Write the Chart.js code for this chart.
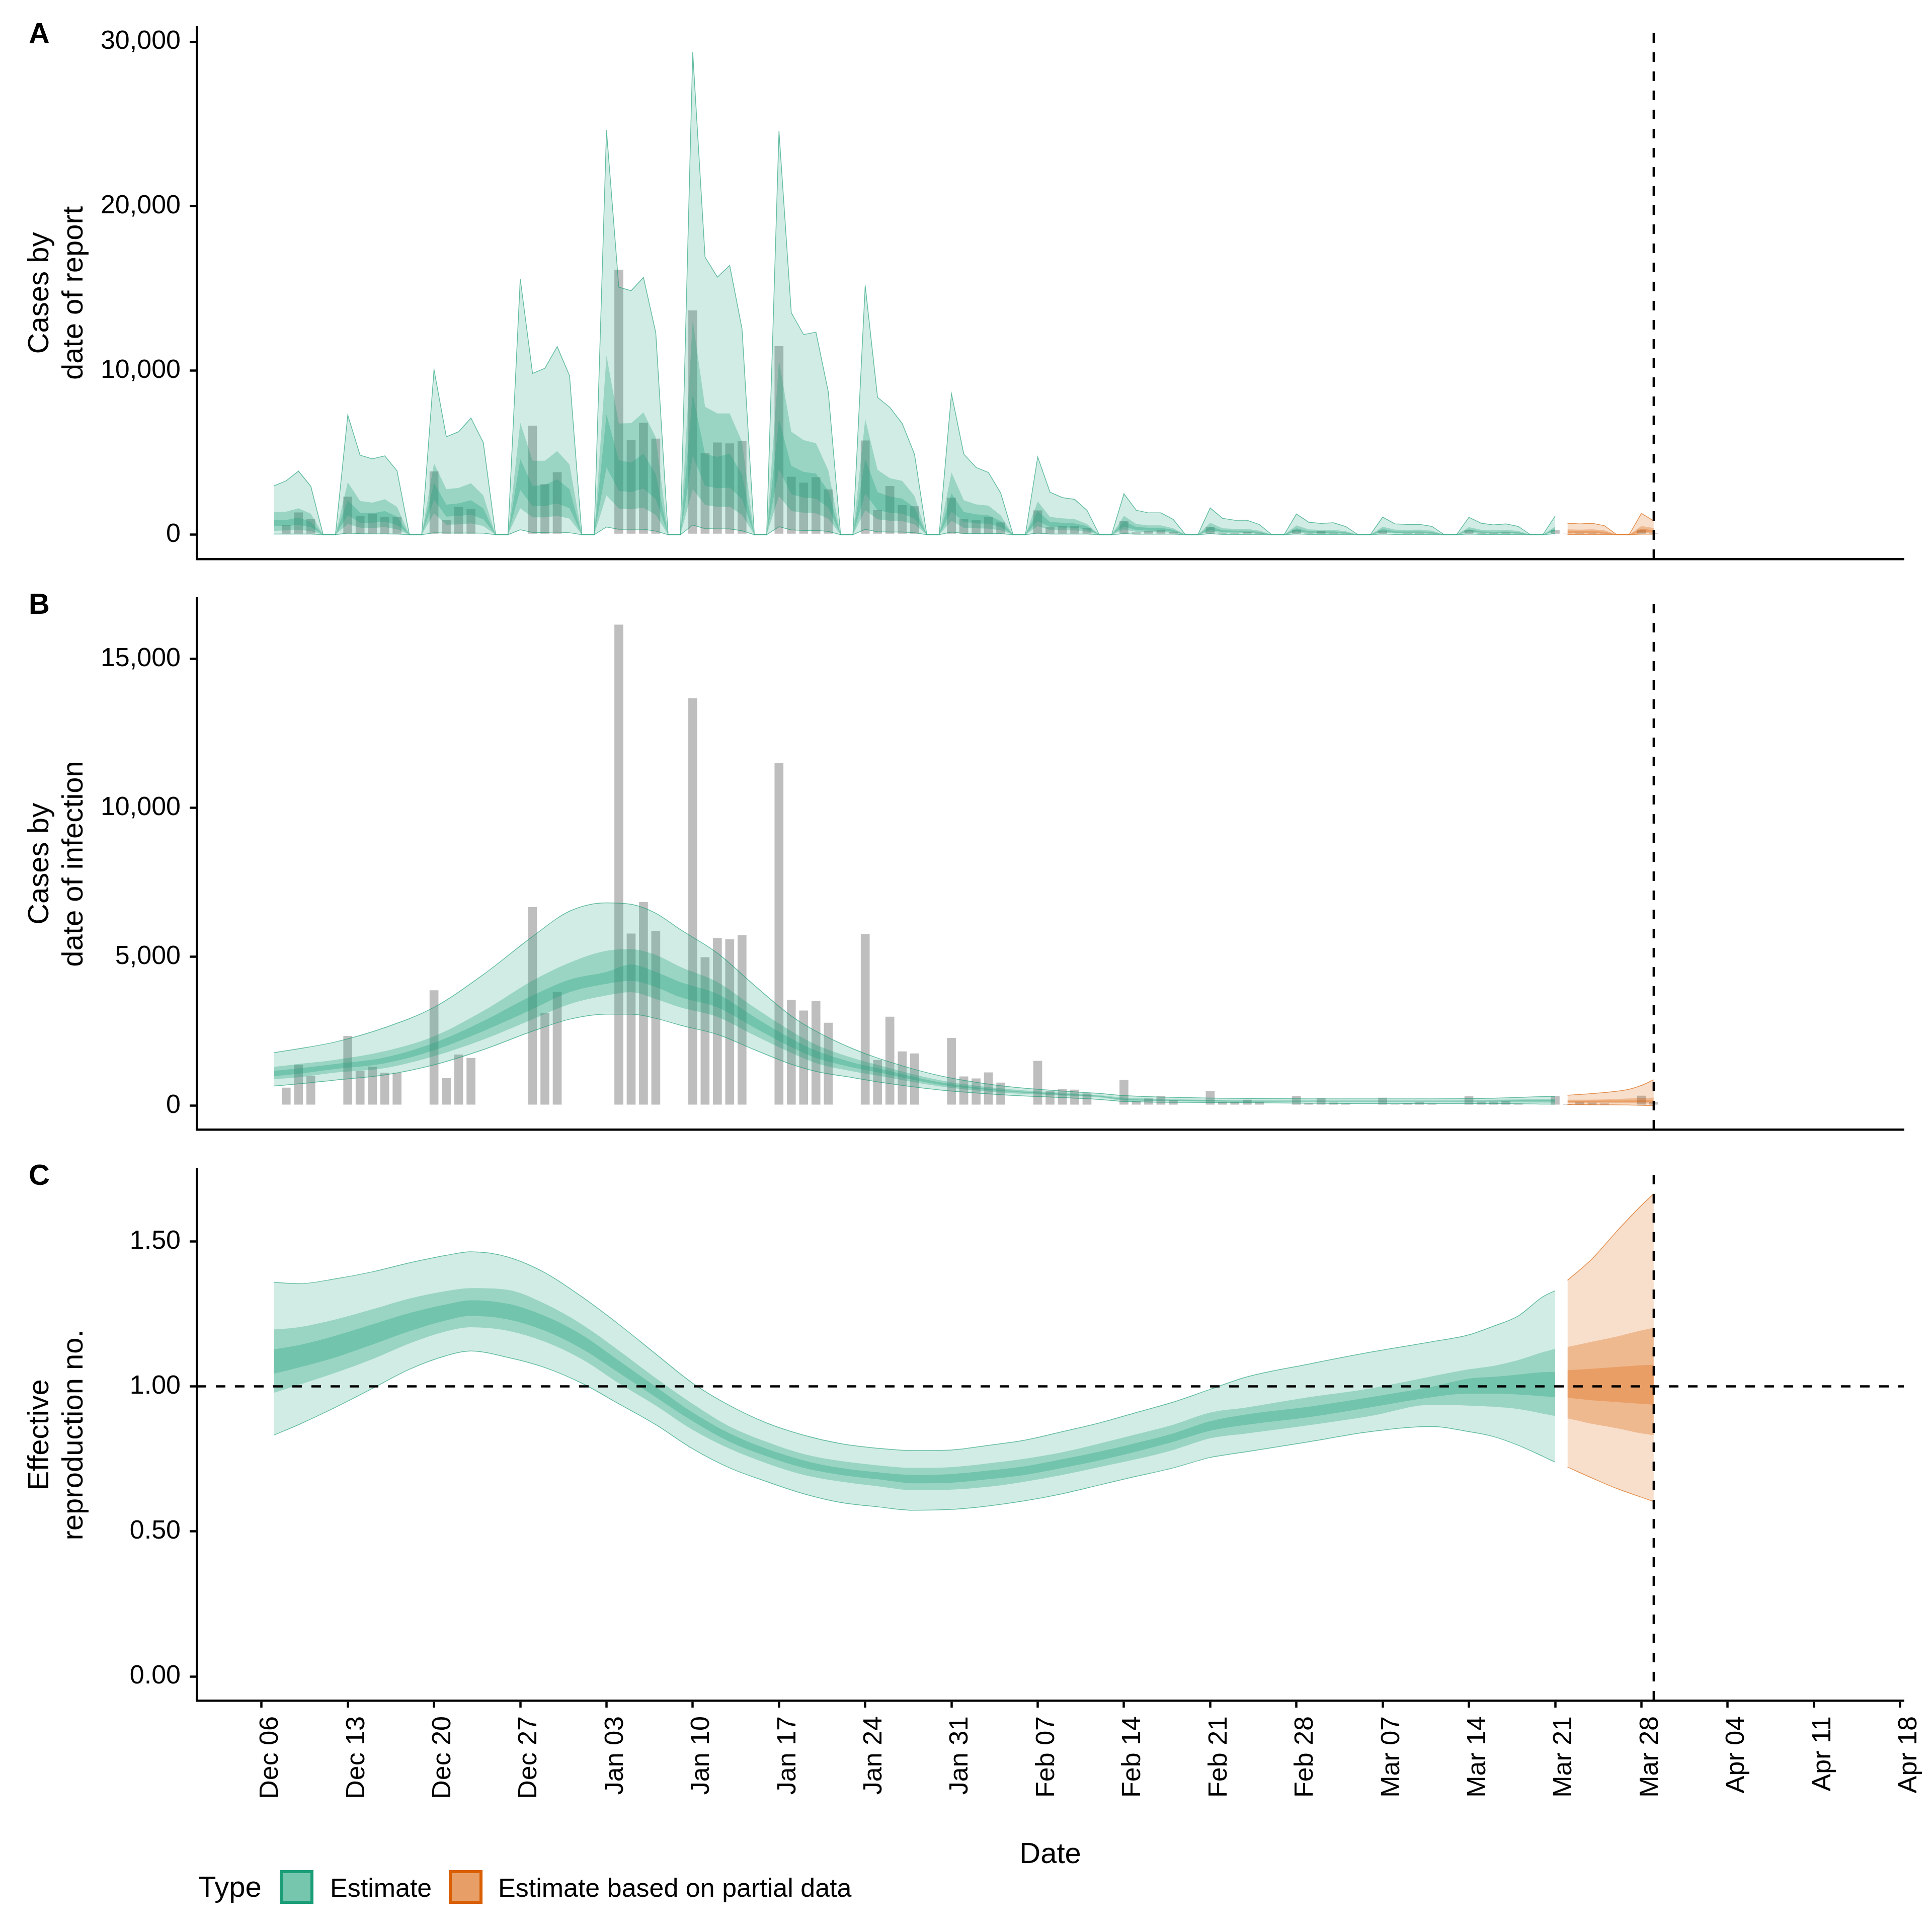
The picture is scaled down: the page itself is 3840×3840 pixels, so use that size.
<!DOCTYPE html>
<html>
<head>
<meta charset="utf-8">
<script src="https://cdn.jsdelivr.net/npm/chart.js@4.4.1/dist/chart.umd.min.js"></script>
<style>
  body { margin: 0; background: #fff; width: 3840px; height: 3840px; position: relative; overflow: hidden;
         font-family: "Liberation Sans", Arial, sans-serif; color: #000; }
  canvas { position: absolute; left: 0; }
  .tag { position: absolute; left: 57px; font-weight: bold; font-size: 58px; line-height: 58px; }
  .lg { position: absolute; line-height: 1; white-space: nowrap; }
  .key { position: absolute; top: 3717px; width: 67px; height: 67px; box-sizing: border-box; border: 6px solid; }
</style>
</head>
<body>
<canvas id="chartA" width="3840" height="1121" style="top:0px"></canvas>
<canvas id="chartB" width="3840" height="1125" style="top:1130px"></canvas>
<canvas id="chartC" width="3840" height="1560" style="top:2280px"></canvas>

<div class="tag" style="top:37px">A</div>
<div class="tag" style="top:1171px">B</div>
<div class="tag" style="top:2306px">C</div>

<div class="lg" style="left:394px; top:3721px; font-size:58px">Type</div>
<div class="key" style="left:556px; border-color:#1B9E77; background:rgba(27,158,119,0.6)"></div>
<div class="lg" style="left:656px; top:3726px; font-size:52px">Estimate</div>
<div class="key" style="left:892px; border-color:#D95F02; background:rgba(217,95,2,0.6)"></div>
<div class="lg" style="left:990px; top:3726px; font-size:52px">Estimate based on partial data</div>

<script>
const FONT = '"Liberation Sans", Arial, sans-serif';
const GREEN = '27,158,119';
const ORANGE = '217,95,2';

// x axis in days since Dec 06
const tickDays = [0, 7, 14, 21, 28, 35, 42, 49, 56, 63, 70, 77, 84, 91, 98, 105, 112, 119, 126, 133];
const tickLabels = ['Dec 06', 'Dec 13', 'Dec 20', 'Dec 27', 'Jan 03', 'Jan 10', 'Jan 17', 'Jan 24', 'Jan 31',
  'Feb 07', 'Feb 14', 'Feb 21', 'Feb 28', 'Mar 07', 'Mar 14', 'Mar 21', 'Mar 28', 'Apr 04', 'Apr 11', 'Apr 18'];
const xMin = -5.26, xMax = 133.3;
const cutoffDay = 113;   // dashed vertical line
const rtReference = 1;   // dashed horizontal line in C

// reported cases (grey bars)
const reportDays = [2, 3, 4, 7, 8, 9, 10, 11, 14, 15, 16, 17, 22, 23, 24, 29, 30, 31, 32, 35, 36, 37, 38, 39,
  42, 43, 44, 45, 46, 49, 50, 51, 52, 53, 56, 57, 58, 59, 60, 63, 64, 65, 66, 67, 70, 71, 72, 73, 74,
  77, 78, 79, 80, 81, 84, 85, 86, 87, 88, 91, 92, 93, 94, 95, 98, 99, 100, 101, 102, 105, 106, 107, 108, 109, 112, 113];
const reportCases = [633, 1405, 1020, 2370, 1190, 1338, 1134, 1134, 3900, 951, 1745, 1632, 6692, 3130, 3855,
  16178, 5808, 6862, 5898, 13705, 5014, 5660, 5614, 5751, 11525, 3583, 3222, 3549, 2811,
  5785, 1564, 3016, 1848, 1781, 2301, 1009, 940, 1144, 804, 1531, 520, 578, 566, 441,
  890, 188, 272, 340, 215, 514, 159, 159, 226, 159, 356, 113, 282, 130, 103,
  294, 69, 113, 142, 103, 345, 159, 159, 181, 103, 345, 86, 142, 130, 103, 361, 150];

// A: cases by date of report, estimate (days 1..105)
const reportEstDays = Array.from({length: 105}, (_, i) => i + 1);
const reportU90 = [2970, 3280, 3870, 2950, 0, 0,
  7280, 4840, 4620, 4800, 3890, 0, 0,
  10050, 5960, 6270, 7100, 5610, 0, 0,
  15580, 9820, 10130, 11450, 9680, 0, 0,
  24610, 15070, 14850, 15660, 12290, 0, 0,
  29370, 16900, 15680, 16390, 12530, 0, 0,
  24570, 13510, 12180, 12330, 8710, 0, 0,
  15170, 8360, 7750, 6770, 4900, 0, 0,
  8590, 4910, 4090, 3790, 2530, 0, 0,
  4740, 2590, 2260, 2150, 1490, 0, 0,
  2490, 1490, 1330, 1330, 930, 0, 0,
  1630, 1000, 880, 880, 620, 0, 0,
  1260, 760, 690, 730, 500, 0, 0,
  1070, 660, 630, 630, 510, 0, 0,
  1060, 700, 600, 660, 510, 0, 0,
  1140];
const reportU50 = [1380, 1400, 1610, 1280, 0, 0,
  3190, 2050, 1950, 2160, 1690, 0, 0,
  4350, 2770, 2850, 3130, 2400, 0, 0,
  6830, 4500, 4500, 5090, 4270, 0, 0,
  10900, 6770, 6790, 7440, 5920, 0, 0,
  13040, 7790, 7380, 7380, 5660, 0, 0,
  10600, 6270, 5760, 5570, 3930, 0, 0,
  7040, 3950, 3440, 3280, 2360, 0, 0,
  3790, 2100, 1850, 1770, 1180, 0, 0,
  2020, 1080, 1000, 950, 650, 0, 0,
  1150, 650, 570, 570, 390, 0, 0,
  730, 390, 350, 350, 250, 0, 0,
  570, 320, 290, 300, 210, 0, 0,
  480, 310, 300, 310, 250, 0, 0,
  460, 300, 270, 290, 230, 0, 0,
  500];
const reportU20 = [880, 900, 1040, 790, 0, 0,
  2100, 1340, 1300, 1440, 1100, 0, 0,
  3170, 1830, 1910, 2100, 1610, 0, 0,
  4600, 2970, 3030, 3380, 2770, 0, 0,
  7320, 4540, 4390, 4940, 3680, 0, 0,
  8560, 4900, 4740, 4940, 3680, 0, 0,
  7040, 4190, 3820, 3720, 2670, 0, 0,
  4600, 2600, 2320, 2200, 1650, 0, 0,
  2510, 1390, 1240, 1180, 830, 0, 0,
  1440, 780, 730, 690, 520, 0, 0,
  830, 470, 420, 420, 300, 0, 0,
  500, 270, 250, 250, 170, 0, 0,
  390, 210, 190, 200, 150, 0, 0,
  350, 200, 190, 200, 160, 0, 0,
  330, 200, 180, 190, 150, 0, 0,
  380];
const reportL20 = [530, 530, 590, 470, 0, 0,
  1180, 730, 730, 790, 590, 0, 0,
  2120, 1100, 1140, 1220, 940, 0, 0,
  2730, 1730, 1750, 1910, 1610, 0, 0,
  4090, 2670, 2600, 2810, 2160, 0, 0,
  4800, 2970, 2830, 2870, 2160, 0, 0,
  3990, 2460, 2260, 2200, 1650, 0, 0,
  2500, 1490, 1340, 1280, 980, 0, 0,
  1410, 780, 690, 670, 470, 0, 0,
  830, 470, 440, 420, 320, 0, 0,
  490, 290, 250, 250, 180, 0, 0,
  290, 160, 140, 140, 110, 0, 0,
  210, 120, 110, 110, 90, 0, 0,
  210, 120, 120, 120, 100, 0, 0,
  230, 120, 110, 120, 90, 0, 0,
  250];
const reportL50 = [240, 260, 290, 220, 0, 0,
  650, 430, 410, 470, 330, 0, 0,
  1300, 610, 630, 690, 530, 0, 0,
  1610, 1060, 1060, 1140, 980, 0, 0,
  2400, 1590, 1550, 1650, 1200, 0, 0,
  2770, 1810, 1690, 1710, 1200, 0, 0,
  2360, 1440, 1340, 1300, 980, 0, 0,
  1490, 940, 850, 830, 630, 0, 0,
  850, 420, 390, 370, 270, 0, 0,
  520, 290, 270, 260, 190, 0, 0,
  320, 180, 160, 160, 120, 0, 0,
  180, 100, 90, 90, 70, 0, 0,
  140, 80, 70, 70, 60, 0, 0,
  130, 80, 80, 80, 60, 0, 0,
  140, 80, 70, 80, 60, 0, 0,
  160];
const reportL90 = [40, 40, 40, 40, 0, 0,
  100, 60, 50, 50, 40, 0, 0,
  120, 100, 100, 100, 90, 0, 0,
  300, 140, 140, 160, 120, 0, 0,
  470, 330, 330, 330, 220, 0, 0,
  590, 370, 350, 350, 240, 0, 0,
  490, 290, 260, 260, 200, 0, 0,
  330, 180, 160, 160, 120, 0, 0,
  160, 80, 60, 60, 60, 0, 0,
  100, 40, 40, 40, 40, 0, 0,
  60, 30, 30, 30, 30, 0, 0,
  60, 20, 20, 20, 20, 0, 0,
  50, 20, 20, 20, 20, 0, 0,
  40, 20, 20, 20, 20, 0, 0,
  40, 20, 20, 20, 20, 0, 0,
  60];

// A: estimate based on partial data
const partialDays = [106, 107, 108, 109, 110, 111, 112, 113];
const reportPartU90 = [700, 660, 700, 550, 0, 0, 1300, 840];
const reportPartU50 = [330, 310, 330, 270, 0, 0, 530, 410];
const reportPartU20 = [230, 210, 220, 180, 0, 0, 360, 280];
const reportPartL20 = [120, 120, 120, 100, 0, 0, 170, 140];
const reportPartL50 = [70, 80, 70, 60, 0, 0, 100, 90];
const reportPartL90 = [20, 20, 20, 20, 0, 0, 30, 30];

// B: cases by date of infection
const infDays = [1, 3, 6, 10, 14, 18, 22, 25, 28, 30, 32, 34, 37, 40, 43, 45, 48, 50, 55, 60, 65, 68, 70, 75, 80, 85, 90, 95, 100, 105];
const infU90 = [1780, 1910, 2140, 2620, 3300, 4400, 5680, 6530, 6810, 6760, 6460, 5910, 5120, 4040, 3010, 2500, 1910, 1600, 1010, 670, 490, 410, 340, 270, 240, 230, 230, 230, 250, 320];
const infU50 = [1300, 1400, 1540, 1830, 2330, 3180, 4200, 4800, 5200, 5250, 5060, 4660, 4150, 3300, 2500, 2050, 1600, 1370, 860, 580, 430, 350, 270, 210, 190, 180, 180, 180, 200, 230];
const infU20 = [1170, 1250, 1400, 1620, 2110, 2840, 3700, 4230, 4490, 4740, 4490, 4150, 3750, 2980, 2250, 1850, 1450, 1260, 790, 530, 400, 330, 230, 190, 160, 160, 160, 160, 170, 190];
const infL20 = [990, 1070, 1230, 1420, 1860, 2500, 3240, 3810, 4090, 4190, 3980, 3640, 3300, 2620, 1960, 1600, 1280, 1120, 710, 490, 360, 300, 200, 160, 140, 140, 140, 140, 140, 140];
const infL50 = [890, 950, 1110, 1260, 1660, 2220, 2900, 3410, 3700, 3810, 3580, 3300, 2980, 2360, 1770, 1430, 1150, 1010, 650, 440, 340, 280, 170, 140, 120, 110, 110, 110, 110, 100];
const infL90 = [660, 730, 860, 1030, 1370, 1880, 2500, 2900, 3070, 3070, 2930, 2700, 2390, 1880, 1390, 1150, 940, 800, 530, 370, 270, 210, 140, 110, 100, 80, 70, 70, 70, 50];
const infPartDays = [106, 109, 111, 112, 113];
const infPartU90 = [350, 440, 550, 680, 870];
const infPartU50 = [200, 210, 240, 255, 270];
const infPartU20 = [160, 170, 175, 180, 186];
const infPartL20 = [124, 124, 124, 120, 118];
const infPartL50 = [84, 84, 79, 75, 73];
const infPartL90 = [39, 28, 23, 10, 5];

// C: effective reproduction number
const rtDays = [1, 3, 6, 9, 12, 15, 17, 20, 23, 26, 29, 32, 35, 38, 41, 44, 47, 50, 53, 56, 59, 62, 65, 68, 71, 74, 77, 80, 85, 90, 95, 98, 100, 102, 104, 105];
const rtU90 = [1.359, 1.354, 1.371, 1.395, 1.426, 1.452, 1.464, 1.446, 1.392, 1.309, 1.214, 1.112, 1.011, 0.934, 0.874, 0.832, 0.803, 0.787, 0.779, 0.781, 0.797, 0.815, 0.844, 0.874, 0.910, 0.946, 0.990, 1.033, 1.077, 1.118, 1.154, 1.178, 1.208, 1.243, 1.309, 1.330];
const rtU50 = [1.196, 1.204, 1.231, 1.266, 1.303, 1.329, 1.339, 1.333, 1.285, 1.214, 1.124, 1.029, 0.940, 0.862, 0.809, 0.767, 0.743, 0.728, 0.719, 0.722, 0.735, 0.751, 0.773, 0.803, 0.835, 0.868, 0.910, 0.928, 0.963, 0.993, 1.035, 1.059, 1.071, 1.091, 1.118, 1.130];
const rtU20 = [1.128, 1.142, 1.175, 1.214, 1.253, 1.283, 1.297, 1.285, 1.243, 1.178, 1.089, 0.999, 0.910, 0.838, 0.785, 0.745, 0.719, 0.704, 0.695, 0.698, 0.710, 0.725, 0.749, 0.775, 0.805, 0.838, 0.880, 0.904, 0.930, 0.963, 0.999, 1.027, 1.033, 1.041, 1.049, 1.050];
const rtL20 = [1.044, 1.065, 1.100, 1.144, 1.190, 1.228, 1.243, 1.231, 1.192, 1.130, 1.047, 0.963, 0.880, 0.809, 0.759, 0.719, 0.695, 0.680, 0.666, 0.668, 0.680, 0.695, 0.719, 0.745, 0.775, 0.809, 0.847, 0.868, 0.894, 0.928, 0.963, 0.975, 0.975, 0.972, 0.966, 0.963];
const rtL50 = [0.978, 1.005, 1.047, 1.094, 1.148, 1.190, 1.204, 1.192, 1.154, 1.094, 1.011, 0.934, 0.850, 0.785, 0.735, 0.695, 0.672, 0.656, 0.642, 0.644, 0.654, 0.672, 0.695, 0.722, 0.749, 0.781, 0.821, 0.838, 0.866, 0.898, 0.937, 0.934, 0.930, 0.922, 0.906, 0.898];
const rtL90 = [0.832, 0.868, 0.928, 0.993, 1.059, 1.106, 1.122, 1.100, 1.065, 1.011, 0.940, 0.868, 0.785, 0.719, 0.672, 0.630, 0.600, 0.585, 0.573, 0.576, 0.588, 0.606, 0.630, 0.660, 0.690, 0.719, 0.755, 0.775, 0.809, 0.844, 0.862, 0.844, 0.827, 0.797, 0.759, 0.739];
const rtPartDays = [106, 108, 110, 112, 113];
const rtPartU90 = [1.366, 1.440, 1.535, 1.624, 1.664];
const rtPartU50 = [1.136, 1.154, 1.172, 1.193, 1.202];
const rtPartU20 = [1.056, 1.061, 1.067, 1.073, 1.075];
const rtPartL20 = [0.961, 0.952, 0.946, 0.940, 0.937];
const rtPartL50 = [0.890, 0.871, 0.856, 0.838, 0.832];
const rtPartL90 = [0.722, 0.684, 0.648, 0.618, 0.603];

// y axes
const yTicksA = [0, 10000, 20000, 30000];
const yTicksB = [0, 5000, 10000, 15000];
const yTicksC = [0, 0.5, 1, 1.5];

const pts = (xs, ys) => xs.map((x, i) => ({x: x, y: ys[i]}));
const BAND_ALPHA = [0.2, 0.3, 0.3];

// one ribbon pair per credible interval, outer first; '+1' fills down to the matching lower edge
function ribbons(days, bands, rgb, smooth) {
  const out = [];
  bands.forEach((band, k) => {
    const edge = k === 0 ? 'rgba(' + rgb + ',0.65)' : 'rgba(0,0,0,0)';
    const common = {
      type: 'line', pointRadius: 0, borderColor: edge, borderWidth: k === 0 ? 1.5 : 0,
      order: 3 - k, tension: 0, cubicInterpolationMode: smooth ? 'monotone' : 'default'
    };
    out.push(Object.assign({}, common, {data: pts(days, band[0]), fill: '+1', backgroundColor: 'rgba(' + rgb + ',' + BAND_ALPHA[k] + ')'}));
    out.push(Object.assign({}, common, {data: pts(days, band[1]), fill: false}));
  });
  return out;
}

function bars() {
  return {
    type: 'bar', data: pts(reportDays, reportCases), backgroundColor: '#bebebe',
    borderColor: '#ffffff', borderWidth: 2, borderSkipped: false, barThickness: 21, order: 10
  };
}

function dashed(data) {
  return {type: 'line', data: data, borderColor: '#000', borderWidth: 4.5, borderDash: [19, 19],
          pointRadius: 0, fill: false, order: 0};
}

function xScale(showLabels) {
  return {
    type: 'linear', min: xMin, max: xMax, bounds: 'data', offset: false,
    afterBuildTicks: s => { s.ticks = tickDays.map(v => ({value: v})); },
    afterFit: s => { s.height = showLabels ? 460 : 10; s.paddingLeft = 0; s.paddingRight = 0; },
    border: {display: true, color: '#000', width: 4.5},
    grid: {display: showLabels, offset: false, drawOnChartArea: false, drawTicks: true, tickLength: 14, tickWidth: 4.5, tickColor: '#000'},
    ticks: {
      display: showLabels, autoSkip: false, maxRotation: 90, minRotation: 90, padding: 17, labelOffset: 18,
      color: '#000', font: {family: FONT, size: 52}, callback: (v, i) => tickLabels[i]
    },
    title: {display: showLabels, text: 'Date', color: '#000', font: {family: FONT, size: 58, lineHeight: 1.2},
            padding: {top: 0, bottom: 118}}
  };
}

function yScale(min, max, ticks, fmt, title) {
  return {
    type: 'linear', min: min, max: max, bounds: 'data',
    afterBuildTicks: s => { s.ticks = ticks.map(v => ({value: v})); },
    afterFit: s => { s.width = 391; s.paddingTop = 0; s.paddingBottom = 0; },
    border: {display: true, color: '#000', width: 4.5},
    grid: {display: true, drawOnChartArea: false, drawTicks: true, tickLength: 14, tickWidth: 4.5, tickColor: '#000'},
    ticks: {padding: 18, color: '#000', font: {family: FONT, size: 52}, callback: fmt},
    title: {display: true, text: title, color: '#000', font: {family: FONT, size: 58, lineHeight: 68 / 58},
            padding: {top: 46, bottom: 0}}
  };
}

function baseOptions(padTop, showX, y) {
  return {
    responsive: false, animation: false, devicePixelRatio: 1, events: [],
    layout: {padding: {top: padTop, right: 56, bottom: 0, left: 0}},
    plugins: {legend: {display: false}, tooltip: {enabled: false}},
    scales: {x: xScale(showX), y: y}
  };
}

const commaFmt = v => v.toLocaleString('en-US');

// panel A
const yMinA = -1476, yMaxA = 30890;
new Chart(document.getElementById('chartA'), {
  type: 'line',
  data: {datasets: [bars()]
    .concat(ribbons(reportEstDays, [[reportU90, reportL90], [reportU50, reportL50], [reportU20, reportL20]], GREEN, false))
    .concat(ribbons(partialDays, [[reportPartU90, reportPartL90], [reportPartU50, reportPartL50], [reportPartU20, reportPartL20]], ORANGE, false))
    .concat([dashed([{x: cutoffDay, y: yMinA}, {x: cutoffDay, y: yMaxA}])])},
  options: baseOptions(54, false, yScale(yMinA, yMaxA, yTicksA, commaFmt, ['Cases by', 'date of report']))
});

// panel B
const yMinB = -801, yMaxB = 17039;
new Chart(document.getElementById('chartB'), {
  type: 'line',
  data: {datasets: [bars()]
    .concat(ribbons(infDays, [[infU90, infL90], [infU50, infL50], [infU20, infL20]], GREEN, true))
    .concat(ribbons(infPartDays, [[infPartU90, infPartL90], [infPartU50, infPartL50], [infPartU20, infPartL20]], ORANGE, true))
    .concat([dashed([{x: cutoffDay, y: yMinB}, {x: cutoffDay, y: yMaxB}])])},
  options: baseOptions(58.8, false, yScale(yMinB, yMaxB, yTicksB, commaFmt, ['Cases by', 'date of infection']))
});

// panel C
const yMinC = -0.083, yMaxC = 1.749;
new Chart(document.getElementById('chartC'), {
  type: 'line',
  data: {datasets: []
    .concat(ribbons(rtDays, [[rtU90, rtL90], [rtU50, rtL50], [rtU20, rtL20]], GREEN, true))
    .concat(ribbons(rtPartDays, [[rtPartU90, rtPartL90], [rtPartU50, rtPartL50], [rtPartU20, rtPartL20]], ORANGE, true))
    .concat([dashed([{x: xMin, y: rtReference}, {x: xMax, y: rtReference}]),
             dashed([{x: cutoffDay, y: yMinC}, {x: cutoffDay, y: yMaxC}])])},
  options: baseOptions(43.8, true, yScale(yMinC, yMaxC, yTicksC, v => v.toFixed(2), ['Effective', 'reproduction no.']))
});
</script>
</body>
</html>
